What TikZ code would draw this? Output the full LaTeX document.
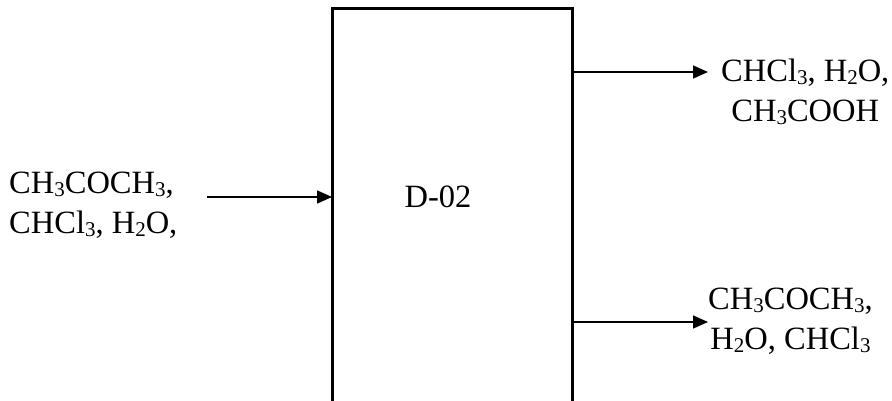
\documentclass[tikz,border=0pt]{standalone}
\usepackage{fontspec}
\setmainfont{Liberation Serif}
\usetikzlibrary{arrows.meta}
\newcommand\sbs[1]{\raisebox{-0.1em}{\fontsize{21}{21}\selectfont #1}}
\tikzset{
  flow/.style={draw, line width=1.6pt, -{Triangle[length=15pt,width=13pt]}},
  lbl/.style={font=\fontsize{32.5}{40}\selectfont, align=center, inner sep=0pt},
}
\begin{document}
\begin{tikzpicture}[x=1pt,y=1pt]
\useasboundingbox (0,0) rectangle (892,401);
\fill[white] (0,0) rectangle (892,401);
\draw[line width=3pt] (332,-5) -- (332,392) -- (572,392) -- (572,-5);
\coordinate (boxL) at (332,204);
\coordinate (boxRt) at (573,329);
\coordinate (boxRb) at (573,79);
\node[lbl, align=left, anchor=west] (in) at (9,196) {CH\sbs{3}COCH\sbs{3},\\CHCl\sbs{3}, H\sbs{2}O,};
\coordinate (inS) at (207,204);
\node[lbl] (d) at (438,204) {D-02};
\node[lbl, anchor=west] (top) at (721,309) {CHCl\sbs{3}, H\sbs{2}O,\\CH\sbs{3}COOH};
\node[lbl, anchor=west] (bot) at (708,80) {CH\sbs{3}COCH\sbs{3},\\H\sbs{2}O, CHCl\sbs{3}};
\coordinate (topE) at (708,329);
\coordinate (botE) at (708,79);
\draw[flow] (inS) -- (boxL);
\draw[flow] (boxRt) -- (topE);
\draw[flow] (boxRb) -- (botE);
\end{tikzpicture}
\end{document}
